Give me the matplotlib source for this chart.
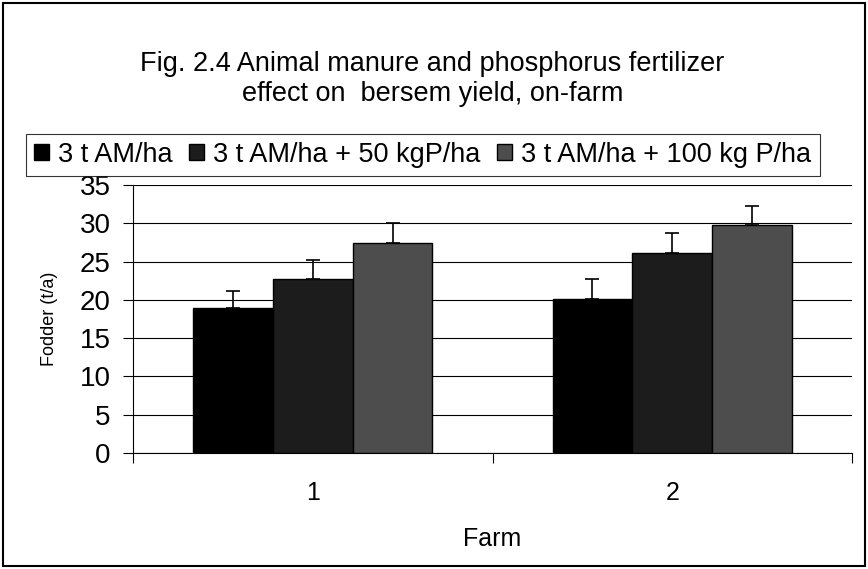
import matplotlib.pyplot as plt
import matplotlib.patches as mpatches
import numpy as np

plt.rcParams['font.family'] = ['Liberation Sans', 'DejaVu Sans']

farms = ["1", "2"]
series = ["3 t AM/ha", "3 t AM/ha + 50 kgP/ha", "3 t AM/ha + 100 kg P/ha"]
fodder = [
    [18.9, 20.1],   # 3 t AM/ha
    [22.7, 26.1],   # + 50 kgP/ha
    [27.4, 29.8],   # + 100 kg P/ha
]
err_up = [
    [2.3, 2.6],
    [2.5, 2.6],
    [2.6, 2.5],
]
colors = ["#000000", "#1c1c1c", "#4d4d4d"]

fig = plt.figure(figsize=(8.68, 5.69), dpi=100)
ax = fig.add_axes([0.1532, 0.2039, 0.8284, 0.4710])

x = np.arange(len(farms)) + 1
w = 0.222
for i in range(len(series)):
    pos = x + (i - 1) * w
    ax.bar(pos, fodder[i], width=w, color=colors[i], edgecolor="black",
           linewidth=1.0, label=series[i], zorder=3)
    ax.errorbar(pos, fodder[i], yerr=[np.zeros(len(farms)), err_up[i]],
                fmt="none", ecolor="black", elinewidth=1.2, capsize=5,
                capthick=1.2, zorder=4)

ax.set_xlim(0.5, 2.5)
ax.set_ylim(0, 35)
ax.set_yticks(range(0, 36, 5))
ax.yaxis.grid(True, color="black", linewidth=0.8, zorder=0)
ax.set_axisbelow(True)

# category boundaries as ticks, labels in the middle
ax.set_xticks([0.5, 1.5, 2.5])
ax.set_xticklabels([])
ax.set_xticks(x, minor=True)
ax.set_xticklabels(farms, minor=True, fontsize=18)
ax.tick_params(axis="x", which="minor", length=0, pad=20)
ax.tick_params(axis="x", which="major", length=7, direction="out", color="black")
ax.tick_params(axis="y", length=7, direction="out", labelsize=20, pad=9)

for s in ["top", "right"]:
    ax.spines[s].set_visible(False)
ax.spines["left"].set_linewidth(0.8)
ax.spines["bottom"].set_linewidth(0.8)

ax.set_xlabel("Farm", fontsize=18, labelpad=16)
ax.set_ylabel("Fodder (t/a)", fontsize=13, labelpad=16)

fig.text(0.498, 0.887, "Fig. 2.4 Animal manure and phosphorus fertilizer",
         ha="center", va="center", fontsize=19.5)
fig.text(0.498, 0.834, "effect on  bersem yield, on-farm",
         ha="center", va="center", fontsize=19.5)

handles = [mpatches.Patch(facecolor=colors[i], edgecolor="black", label=series[i])
           for i in range(len(series))]
leg = fig.legend(handles=handles, loc="center", bbox_to_anchor=(0.487, 0.728),
                 ncol=3, fontsize=19.5, frameon=True, fancybox=False,
                 edgecolor="black", handlelength=0.55, handleheight=0.55,
                 handletextpad=0.35, columnspacing=0.6, borderpad=0.3,
                 borderaxespad=0)
leg.get_frame().set_linewidth(0.8)

fig.patches.append(mpatches.Rectangle((0.004, 0.005), 0.992, 0.99,
                                      transform=fig.transFigure, fill=False,
                                      edgecolor="black", linewidth=1.5))

fig.savefig("out.png", dpi=100)
